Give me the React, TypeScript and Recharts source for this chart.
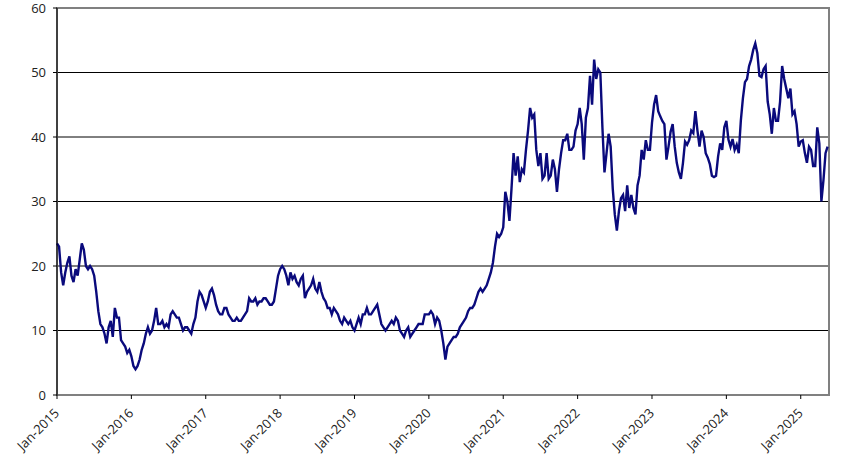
import React from "react"
import { LineChart, Line, XAxis, YAxis, CartesianGrid, ReferenceArea } from "recharts"

// values read every 1/36 of a year, starting in January of each year
const v2015 = [23.5, 23, 19, 17, 19, 20.5, 21.5, 18.5, 17.5, 19.5, 18.5, 21, 23.5, 22.5, 20, 19.5, 20, 19.5, 18.5, 16, 13, 11, 10.5, 9.5, 8, 10.5, 11.5, 9, 13.5, 12, 12, 8.5, 8, 7.5, 6.5, 7]
const v2016 = [6, 4.5, 4, 4.5, 5.5, 7, 8, 9.5, 10.5, 9.5, 10, 11.5, 13.5, 11, 11, 11.5, 10.5, 11, 10.5, 12.5, 13, 12.5, 12, 12, 11, 10, 10.5, 10.5, 10, 9.5, 11, 12, 14.5, 16, 15.5, 14.5]
const v2017 = [13.5, 14.5, 16, 16.5, 15.5, 14, 13, 12.5, 12.5, 13.5, 13.5, 12.5, 12, 11.5, 11.5, 12, 11.5, 11.5, 12, 12.5, 13, 15, 14.5, 14.5, 15, 14, 14.5, 14.5, 15, 15, 14.5, 14, 14, 14.5, 16.5, 18.5]
const v2018 = [19.5, 20, 19.5, 18.5, 17, 19, 18, 18.5, 17.5, 17, 18, 18.5, 15, 16, 16.5, 17, 18, 16.5, 16, 17.5, 16, 15, 14.5, 13.5, 13.5, 12.5, 13.5, 13, 12.5, 11.5, 11, 12, 11.5, 11, 11.5, 10.5]
const v2019 = [10, 11, 12, 11, 12.5, 12.5, 13.5, 12.5, 12.5, 13, 13.5, 14, 12.5, 11, 10.5, 10, 10.5, 11, 11.5, 11, 12, 11.5, 10, 9.5, 9, 10, 10.5, 9, 9.5, 10, 10.5, 11, 11, 11, 12.5, 12.5]
const v2020 = [12.5, 13, 12.5, 11, 12, 11.5, 10, 8, 5.5, 7.5, 8, 8.5, 9, 9, 9.5, 10.5, 11, 11.5, 12, 13, 13.5, 13.5, 14, 15, 16, 16.5, 16, 16.5, 17, 18, 19, 20.5, 23, 25, 24.5, 25]
const v2021 = [26, 31.5, 30, 27, 32, 37.5, 34, 37, 33, 35, 34.5, 38, 41, 44.5, 43, 43.5, 38, 35.5, 37.5, 33.5, 34, 37.5, 33.5, 34, 36.5, 35, 31.5, 35, 37.5, 39.5, 39.5, 40.5, 38, 38, 38.5, 41]
const v2022 = [42, 44.5, 42, 36.5, 43, 44.5, 49.5, 45, 52, 49, 50.5, 50, 41.5, 34.5, 37.5, 40.5, 38.5, 32, 28, 25.5, 28.5, 30.5, 31, 28.5, 32.5, 29, 31, 29, 28, 32.5, 34, 38, 36.5, 39.5, 38, 38]
const v2023 = [42.2, 45, 46.5, 44, 43.2, 42.5, 42, 36.5, 38.5, 40.8, 42, 38.5, 36, 34.5, 33.5, 36, 39.3, 38.8, 39.5, 41, 40.6, 44, 41, 38.5, 41, 40, 37.5, 36.8, 35.8, 34, 33.8, 34, 37, 39, 38, 41.5]
const v2024 = [42.5, 39.6, 38.5, 39.7, 38, 38.8, 37.5, 42.5, 46, 48.5, 49, 51, 52, 53.5, 54.5, 53, 49.5, 49.3, 50.5, 51, 45.5, 43.5, 40.5, 44.5, 42.5, 42.5, 45.5, 51, 49, 47.5, 46, 47.5, 43.5, 44, 42, 38.5]
const v2025 = [39.3, 39.5, 37.5, 36, 38.5, 38, 35.5, 35.5, 41.5, 39, 30, 33.3, 37.5, 38.5]

const years = [v2015, v2016, v2017, v2018, v2019, v2020, v2021, v2022, v2023, v2024, v2025]
const xTicks = [2015, 2016, 2017, 2018, 2019, 2020, 2021, 2022, 2023, 2024, 2025]
const yTicks = [0, 10, 20, 30, 40, 50, 60]

const data = years.flatMap((vals, k) => vals.map((v, i) => ({ t: 2015 + k + i / 36, v })))

const font = "'Open Sans', sans-serif"

const XTick = (props: any) => {
  const { x, y, payload } = props
  return (
    <g transform={`translate(${x + 3},${y + 13}) rotate(-45)`}>
      <text textAnchor="end" fontSize={13} fill="#222" fontFamily={font}>
        {`Jan-${payload.value}`}
      </text>
    </g>
  )
}

export default function App() {
  return (
    <div style={{ position: "absolute", left: 0, top: 0, fontFamily: font }}>
      <LineChart width={853} height={470} data={data} margin={{ top: 8, right: 24, left: 0, bottom: 0 }}>
        <CartesianGrid vertical={false} stroke="#000" horizontalValues={[10, 20, 30, 40, 50]} />
        <ReferenceArea x1={2015} x2={2025.38} y1={0} y2={60} fill="none" stroke="#808080" strokeWidth={2} />
        <XAxis
          dataKey="t"
          type="number"
          domain={[2015, 2025.38]}
          ticks={xTicks}
          tick={<XTick />}
          tickSize={4}
          height={75}
          interval={0}
          axisLine={{ stroke: "#808080", strokeWidth: 1.5 }}
          tickLine={{ stroke: "#000" }}
        />
        <YAxis
          type="number"
          domain={[0, 60]}
          ticks={yTicks}
          width={57}
          tickSize={4}
          tickMargin={7}
          interval={0}
          axisLine={{ stroke: "#000" }}
          tickLine={{ stroke: "#000" }}
          tick={{ fontSize: 13, fill: "#222", fontFamily: font }}
        />
        <Line type="linear" dataKey="v" stroke="#0a0a7c" strokeWidth={2.4} dot={false} isAnimationActive={false} />
      </LineChart>
    </div>
  )
}
